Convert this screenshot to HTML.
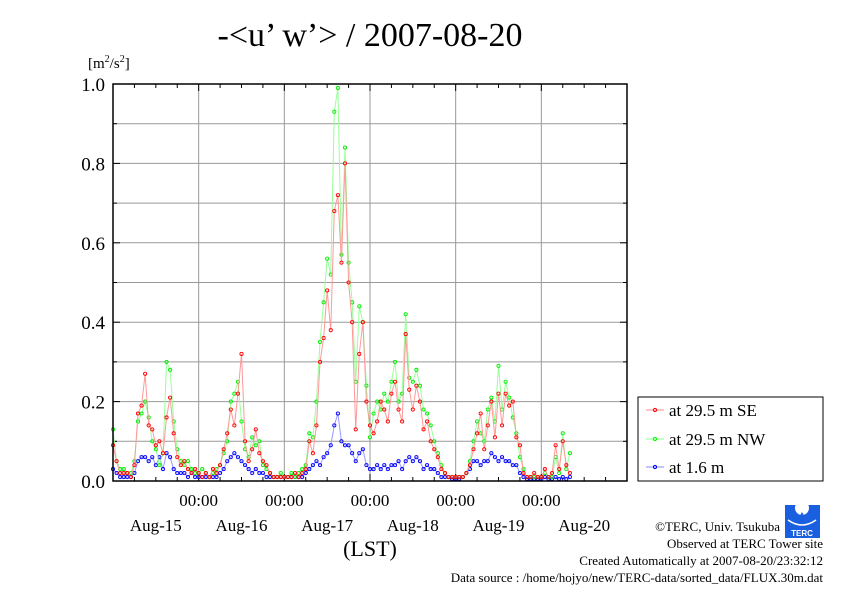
<!DOCTYPE html>
<html><head><meta charset="utf-8"><style>
body{margin:0;background:#fff;}
svg text{font-family:"Liberation Serif",serif;fill:#000;}
</style></head><body>
<svg width="842" height="595" viewBox="0 0 842 595" xmlns="http://www.w3.org/2000/svg">
<text x="370" y="46" font-size="34" text-anchor="middle">-&lt;u’ w’&gt; / 2007-08-20</text>
<text x="88" y="68" font-size="15">[m<tspan font-size="10" dy="-6">2</tspan><tspan dy="6">/s</tspan><tspan font-size="10" dy="-6">2</tspan><tspan dy="6">]</tspan></text>
<g id="grid"></g>
<g id="axes"></g>
<g id="series"></g>
<rect x="113" y="84" width="514" height="397" fill="none" stroke="#000" stroke-width="1.5"/>
<text x="370" y="556" font-size="22" text-anchor="middle">(LST)</text>
<g>
<rect x="638" y="397" width="185" height="84" fill="#fff" stroke="#000" stroke-width="1"/>
<g><line x1="646" y1="410" x2="664" y2="410" stroke="#f88"/><circle cx="655" cy="410" r="1.6" fill="none" stroke="#f00"/><text x="669" y="416" font-size="17">at 29.5 m SE</text></g>
<g><line x1="646" y1="439" x2="664" y2="439" stroke="#8f8"/><circle cx="655" cy="439" r="1.6" fill="none" stroke="#0f0"/><text x="669" y="445" font-size="17">at 29.5 m NW</text></g>
<g><line x1="646" y1="467" x2="664" y2="467" stroke="#88f"/><circle cx="655" cy="467" r="1.6" fill="none" stroke="#00f"/><text x="669" y="473" font-size="17">at 1.6 m</text></g>
</g>
<g>
<rect x="785" y="505" width="35" height="33" fill="#1a5fe0"/>
<circle cx="802" cy="508" r="7" fill="#fff"/>
<path d="M802 512 q-4 6 0 9 q4 -3 0 -9z" fill="#1a5fe0"/>
<path d="M788 520 q14 10 28 0" stroke="#fff" fill="none" stroke-width="1.5"/>
<text x="802" y="536" font-size="8" text-anchor="middle" fill="#fff" style="fill:#fff;font-family:'Liberation Sans',sans-serif;font-weight:bold">TERC</text>
</g>
<g font-size="13" text-anchor="end">
<text x="780" y="531">©TERC, Univ. Tsukuba</text>
<text x="823" y="548">Observed at TERC Tower site</text>
<text x="823" y="565">Created Automatically at 2007-08-20/23:32:12</text>
<text x="823" y="582">Data source : /home/hojyo/new/TERC-data/sorted_data/FLUX.30m.dat</text>
</g>
</svg>
<script>
const dayLabels=["Aug-15","Aug-16","Aug-17","Aug-18","Aug-19","Aug-20"];
const yTicks=[0.0,0.2,0.4,0.6,0.8,1.0];
const seSeries=[0.09,0.05,0.02,0.02,0.02,0.01,0.04,0.17,0.19,0.27,0.14,0.13,0.09,0.10,0.07,0.16,0.21,0.12,0.06,0.04,0.05,0.03,0.02,0.03,
0.02,0.01,0.02,0.01,0.03,0.02,0.04,0.08,0.12,0.18,0.14,0.22,0.32,0.10,0.05,0.08,0.13,0.07,0.05,0.04,0.02,0.01,0.01,0.01,
0.01,0.01,0.01,0.02,0.01,0.02,0.03,0.10,0.07,0.14,0.30,0.36,0.48,0.38,0.68,0.72,0.55,0.80,0.50,0.40,0.13,0.32,0.40,0.20,
0.14,0.12,0.15,0.20,0.18,0.15,0.22,0.25,0.18,0.15,0.37,0.23,0.18,0.24,0.20,0.13,0.15,0.10,0.08,0.06,0.03,0.02,0.01,0.01,
0.01,0.01,0.01,0.02,0.04,0.08,0.12,0.17,0.08,0.14,0.20,0.11,0.22,0.14,0.22,0.19,0.20,0.11,0.09,0.02,0.01,0.01,0.02,0.01,
0.01,0.03,0.01,0.02,0.09,0.03,0.10,0.04,0.02];
const nwSeries=[0.13,0.05,0.03,0.03,0.02,0.02,0.05,0.15,0.17,0.20,0.16,0.10,0.08,0.04,0.07,0.30,0.28,0.15,0.08,0.05,0.04,0.05,0.03,0.02,
0.02,0.03,0.02,0.01,0.02,0.03,0.04,0.07,0.10,0.20,0.22,0.25,0.15,0.08,0.06,0.11,0.09,0.10,0.04,0.03,0.02,0.01,0.01,0.02,
0.01,0.01,0.02,0.01,0.02,0.03,0.04,0.12,0.11,0.20,0.35,0.45,0.56,0.52,0.93,0.99,0.57,0.84,0.55,0.45,0.25,0.44,0.40,0.24,
0.11,0.17,0.20,0.18,0.22,0.20,0.25,0.30,0.20,0.22,0.42,0.26,0.25,0.28,0.24,0.18,0.17,0.14,0.10,0.07,0.04,0.02,0.01,0.01,
0.01,0.01,0.01,0.02,0.05,0.10,0.15,0.12,0.10,0.18,0.21,0.15,0.29,0.18,0.25,0.21,0.16,0.12,0.06,0.03,0.01,0.01,0.01,0.01,
0.01,0.02,0.01,0.01,0.06,0.02,0.12,0.03,0.07];
const lowSeries=[0.03,0.02,0.01,0.01,0.01,0.01,0.02,0.05,0.06,0.06,0.05,0.06,0.04,0.06,0.03,0.07,0.06,0.03,0.02,0.02,0.02,0.01,0.02,0.01,
0.01,0.01,0.01,0.01,0.01,0.01,0.02,0.03,0.05,0.06,0.07,0.06,0.05,0.04,0.03,0.02,0.03,0.02,0.02,0.01,0.01,0.01,0.01,0.01,
0.01,0.01,0.01,0.01,0.01,0.01,0.02,0.03,0.04,0.05,0.04,0.06,0.07,0.09,0.14,0.17,0.10,0.09,0.09,0.07,0.05,0.07,0.08,0.04,
0.03,0.03,0.04,0.03,0.04,0.03,0.04,0.04,0.05,0.03,0.05,0.06,0.05,0.06,0.05,0.03,0.04,0.03,0.03,0.02,0.01,0.01,0.01,0.005,
0.005,0.005,0.01,0.02,0.03,0.05,0.05,0.04,0.05,0.05,0.07,0.06,0.05,0.06,0.05,0.05,0.04,0.04,0.02,0.01,0.005,0.005,0.005,0.005,
0.005,0.01,0.005,0.005,0.01,0.005,0.01,0.005,0.01];
const NS="http://www.w3.org/2000/svg";
const X0=113,X1=627,Y0=481,Y1=84,HOURS=144;
function xs(h){return X0+(X1-X0)*h/HOURS;}
function ys(v){return Y0-(Y0-Y1)*v;}
function mk(tag,attrs,parent){const e=document.createElementNS(NS,tag);for(const k in attrs)e.setAttribute(k,attrs[k]);parent.appendChild(e);return e;}
const grid=document.getElementById('grid'),axes=document.getElementById('axes'),ser=document.getElementById('series');
for(let i=1;i<10;i++){const l=mk('line',{x1:X0,x2:X1,y1:ys(i/10),y2:ys(i/10),stroke:'#999','stroke-width':1},grid);

}
for(let d=1;d<6;d++){const l=mk('line',{x1:xs(d*24),x2:xs(d*24),y1:Y1,y2:Y0,stroke:'#999','stroke-width':1},grid);

}
for(let i=0;i<=10;i++){const y=ys(i/10),len=i%2==0?7:4;
mk('line',{x1:X0,x2:X0+len,y1:y,y2:y,stroke:'#000'},axes);mk('line',{x1:X1,x2:X1-len,y1:y,y2:y,stroke:'#000'},axes);}
yTicks.forEach(v=>{const t=mk('text',{x:105,y:ys(v)+7,'font-size':19,'text-anchor':'end'},axes);t.textContent=v.toFixed(1);

});
for(let h=6;h<HOURS;h+=6){const len=h%24==0?7:4;const x=xs(h);
mk('line',{x1:x,x2:x,y1:Y0,y2:Y0-len,stroke:'#000'},axes);mk('line',{x1:x,x2:x,y1:Y1,y2:Y1+len,stroke:'#000'},axes);}
for(let d=1;d<6;d++){const t=mk('text',{x:xs(d*24),y:506,'font-size':17,'text-anchor':'middle'},axes);t.textContent='00:00';

}
dayLabels.forEach((s,i)=>{const t=mk('text',{x:xs(i*24+12),y:531,'font-size':17,'text-anchor':'middle'},axes);t.textContent=s;

});
function draw(data,line,mark,name){const g=mk('g',{},ser);


const pts=data.map((v,i)=>xs(i)+','+ys(v)).join(' ');
mk('polyline',{points:pts,fill:'none',stroke:line,'stroke-width':1},g);
data.forEach((v,i)=>{const c=mk('circle',{cx:xs(i),cy:ys(v),r:1.6,fill:'none',stroke:mark,'stroke-width':0.9},g);

});}
draw(lowSeries,'#99f','#00f','series-1.6m');
draw(nwSeries,'#9f9','#0e0','series-29.5m-nw');
draw(seSeries,'#f99','#f00','series-29.5m-se');
</script>
</body></html>
